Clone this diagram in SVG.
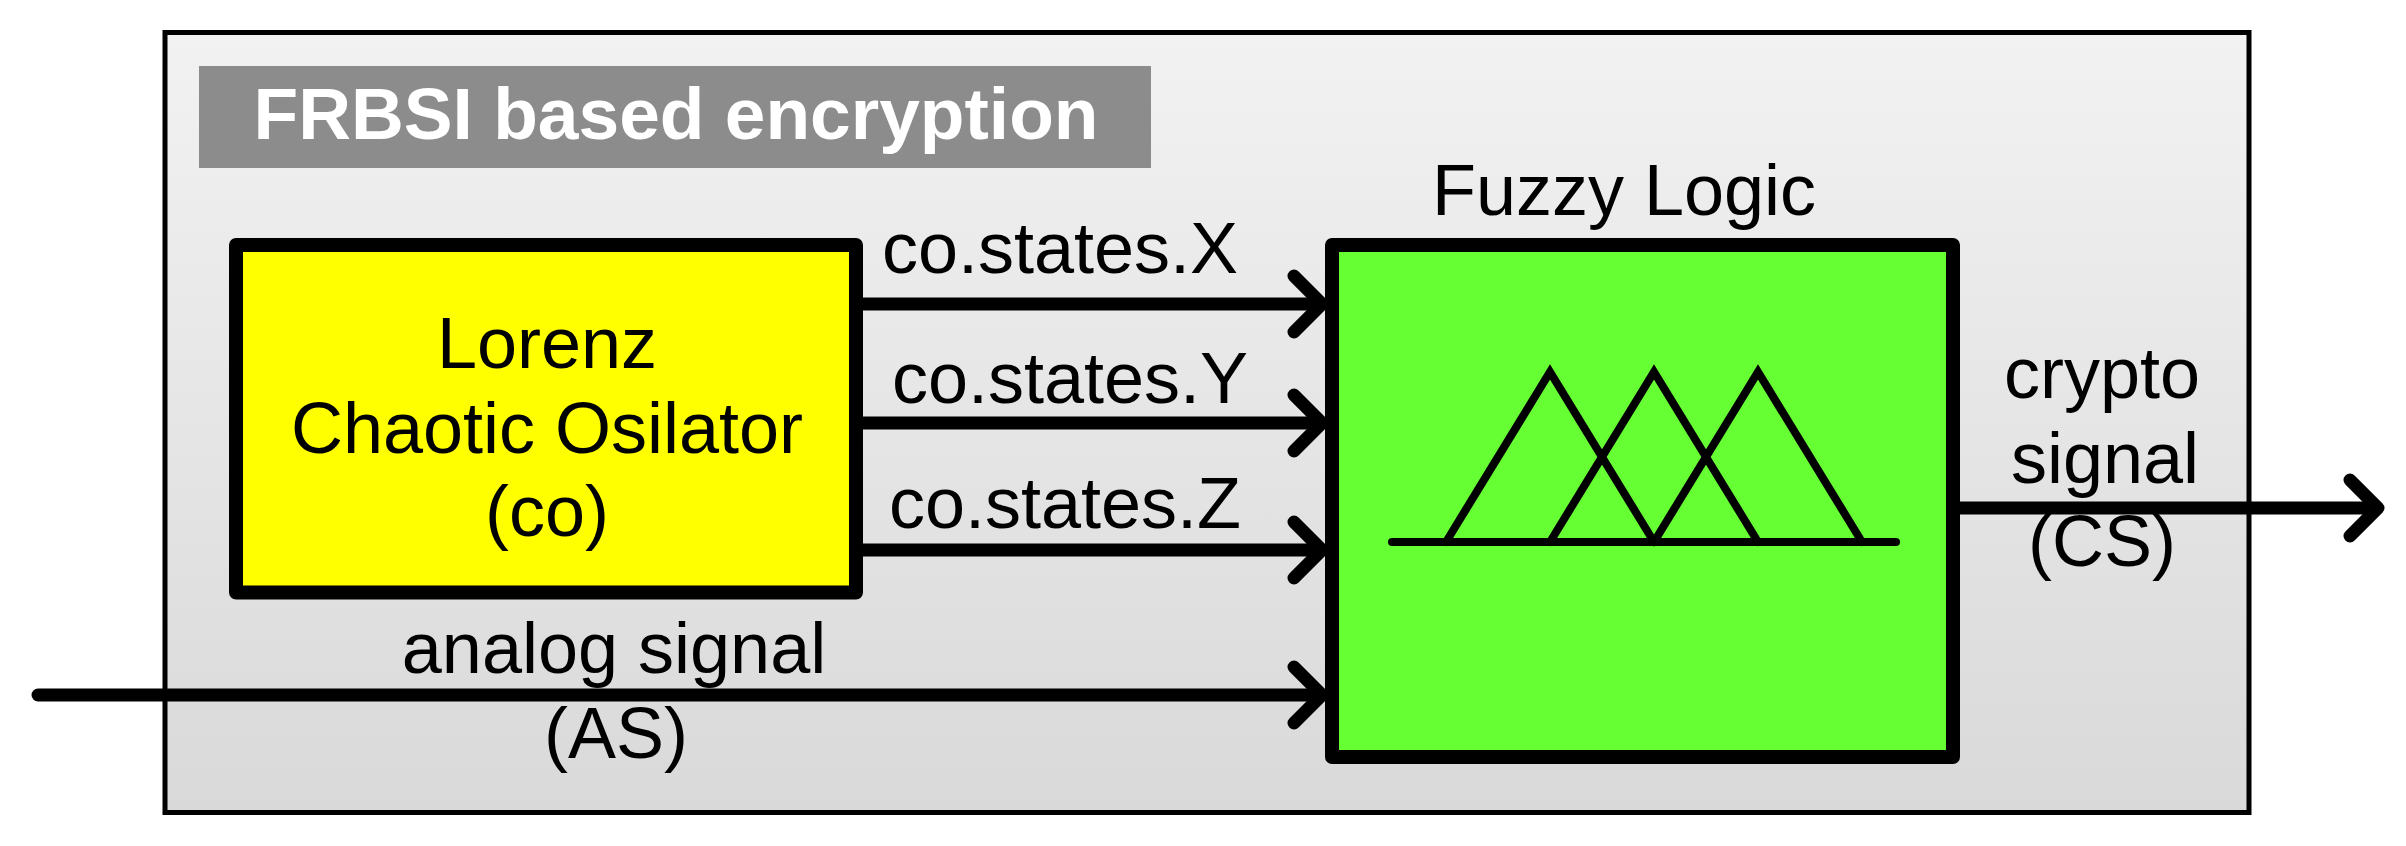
<svg xmlns="http://www.w3.org/2000/svg" width="2406" height="846" viewBox="0 0 2406 846">
  <defs>
    <linearGradient id="frameGrad" x1="0" y1="0" x2="0" y2="1">
      <stop offset="0" stop-color="#f2f2f2"/>
      <stop offset="1" stop-color="#d9d9d9"/>
    </linearGradient>
    <marker id="chev" markerUnits="userSpaceOnUse" markerWidth="80" markerHeight="80" viewBox="-40 -40 80 80" refX="0" refY="0" orient="auto" overflow="visible">
      <path d="M-28,-28 L0,0 L-28,28" fill="none" stroke="#000" stroke-width="13" stroke-linecap="round" stroke-linejoin="round"/>
    </marker>
    <style>
      .txt { font-family: "Liberation Sans", Arial, sans-serif; font-size: 72px; fill: #000; }
      .title { font-family: "Liberation Sans", Arial, sans-serif; font-size: 72px; font-weight: bold; fill: #fff; }
      .box { stroke: #000; stroke-width: 14; stroke-linejoin: round; }
      .conn { fill: none; stroke: #000; stroke-width: 13; marker-end: url(#chev); }
      .mf { fill: none; stroke: #000; stroke-width: 8; stroke-linejoin: miter; stroke-linecap: round; }
    </style>
  </defs>

  <g id="frame">
    <rect x="165" y="32.5" width="2084" height="780" fill="url(#frameGrad)" stroke="#000" stroke-width="5"/>
  </g>

  <g id="title">
    <rect x="199" y="66" width="952" height="102" fill="#8c8c8c"/>
    <text class="title" x="676" y="139" text-anchor="middle" textLength="845" lengthAdjust="spacingAndGlyphs">FRBSI based encryption</text>
  </g>

  <g id="lorenz">
    <rect class="box" x="236" y="245" width="620" height="347.5" fill="#ffff00"/>
    <text class="txt" x="547" y="368" text-anchor="middle">Lorenz</text>
    <text class="txt" x="547" y="453" text-anchor="middle">Chaotic Osilator</text>
    <text class="txt" x="547" y="536" text-anchor="middle">(co)</text>
  </g>

  <g id="fuzzy">
    <text class="txt" x="1624" y="215" text-anchor="middle">Fuzzy Logic</text>
    <rect class="box" x="1332" y="245" width="621" height="512" fill="#66ff33"/>
    <line class="mf" x1="1392" y1="542" x2="1896" y2="542"/>
    <polyline class="mf" points="1446,542 1550,372 1654,542"/>
    <polyline class="mf" points="1550,542 1654,372 1758,542"/>
    <polyline class="mf" points="1654,542 1758,372 1862,542"/>
  </g>

  <g id="connectors">
    <line class="conn" x1="863" y1="304" x2="1322" y2="304"/>
    <line class="conn" x1="863" y1="423" x2="1322" y2="423"/>
    <line class="conn" x1="863" y1="550" x2="1322" y2="550"/>
    <line class="conn" x1="38" y1="695" x2="1322" y2="695" stroke-linecap="round"/>
    <line class="conn" x1="1960" y1="508" x2="2378" y2="508"/>
    <text class="txt" x="1060" y="273" text-anchor="middle">co.states.X</text>
    <text class="txt" x="1070" y="403" text-anchor="middle">co.states.Y</text>
    <text class="txt" x="1065" y="528" text-anchor="middle">co.states.Z</text>
    <text class="txt" x="614" y="673" text-anchor="middle">analog signal</text>
    <text class="txt" x="616" y="758" text-anchor="middle">(AS)</text>
    <text class="txt" x="2102" y="398" text-anchor="middle">crypto</text>
    <text class="txt" x="2105" y="483" text-anchor="middle">signal</text>
    <text class="txt" x="2102" y="566" text-anchor="middle">(CS)</text>
  </g>
</svg>
